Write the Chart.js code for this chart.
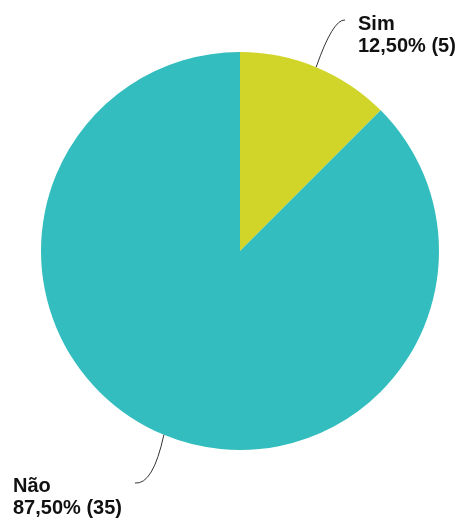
<!DOCTYPE html>
<html>
<head>
<meta charset="utf-8">
<script src="https://cdn.jsdelivr.net/npm/chart.js@4"></script>
<style>
  body { margin: 0; background: #fff; }
  #wrap { width: 460px; height: 520px; }
</style>
</head>
<body>
<div id="wrap"><canvas id="myChart" width="460" height="520"></canvas></div>
<script>
const labels = ["Sim", "Não"];
const counts = [5, 35];
const percents = ["12,50%", "87,50%"];
const colors = ["#d1d52a", "#33bdbe"];

// label text position and where the leader line ends (next to the label)
const labelPos = [
  { x: 358, y: 30, lineEnd: [345, 20], ctrl: [333, 19] },
  { x: 13, y: 492, lineEnd: [135, 483], ctrl: [153, 485] }
];

const leaderLabels = {
  id: "leaderLabels",
  afterDraw(chart) {
    const ctx = chart.ctx;
    const meta = chart.getDatasetMeta(0);
    meta.data.forEach((arc, i) => {
      const mid = (arc.startAngle + arc.endAngle) / 2;
      const sx = arc.x + Math.cos(mid) * arc.outerRadius;
      const sy = arc.y + Math.sin(mid) * arc.outerRadius;
      const p = labelPos[i];
      ctx.save();
      ctx.strokeStyle = "#333";
      ctx.lineWidth = 1;
      ctx.beginPath();
      ctx.moveTo(sx, sy);
      ctx.quadraticCurveTo(p.ctrl[0], p.ctrl[1], p.lineEnd[0], p.lineEnd[1]);
      ctx.stroke();
      ctx.fillStyle = "#111";
      ctx.font = "bold 20px 'Liberation Sans', Arial, sans-serif";
      ctx.textAlign = "left";
      ctx.textBaseline = "alphabetic";
      ctx.fillText(labels[i], p.x, p.y);
      ctx.fillText(percents[i] + " (" + counts[i] + ")", p.x, p.y + 22);
      ctx.restore();
    });
  }
};

const ctx = document.getElementById("myChart").getContext("2d");
const chart = new Chart(ctx, {
  type: "pie",
  data: {
    labels: labels,
    datasets: [{
      data: counts,
      backgroundColor: colors,
      borderWidth: 0
    }]
  },
  options: {
    responsive: false,
    animation: false,
    layout: { padding: { left: 41, right: 21, top: 52, bottom: 70 } },
    plugins: {
      legend: { display: false },
      tooltip: { enabled: false }
    }
  },
  plugins: [leaderLabels]
});
</script>
</body>
</html>
